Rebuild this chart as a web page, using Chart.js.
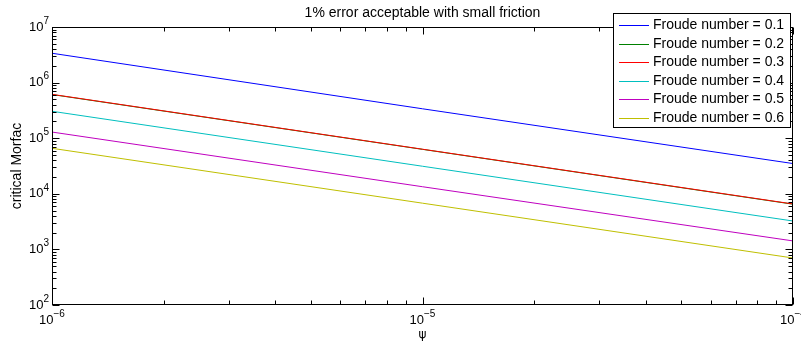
<!DOCTYPE html>
<html><head><meta charset="utf-8">
<script src="https://cdn.jsdelivr.net/npm/chart.js@4/dist/chart.umd.min.js"></script>
<style>html,body{margin:0;padding:0;background:#fff}#wrap{width:801px;height:344px}</style>
</head><body><div id="wrap"><canvas id="c" width="801" height="344"></canvas></div>
<script>
// ---- data ----
const psi = [1e-6, 1e-5, 1e-4];
const froudeLabels = ['Froude number = 0.1','Froude number = 0.2','Froude number = 0.3','Froude number = 0.4','Froude number = 0.5','Froude number = 0.6'];
const fr01 = [3.37e6, 3.38e5, 3.50e4];
const fr02 = [6.10e5, 6.30e4, 6.50e3];
const fr03 = [6.15e5, 6.34e4, 6.56e3];
const fr04 = [3.05e5, 3.13e4, 3.24e3];
const fr05 = [1.29e5, 1.34e4, 1.42e3];
const fr06 = [6.58e4, 6.78e3, 7.00e2];
const xTickExps = [-6, -5, -4];
const yTickExps = [2, 3, 4, 5, 6, 7];
const titleText = '1% error acceptable with small friction';
const xLabel = 'ψ';
const yLabel = 'critical Morfac';
// ---- style ----
const colors = ['#0000ff','#008000','#ff0000','#00bfbf','#bf00bf','#bfbf00'];
const FONT = '"Liberation Sans", Arial, Helvetica, sans-serif';

const series = [fr01, fr02, fr03, fr04, fr05, fr06];
const datasets = series.map((s, i) => ({
  label: froudeLabels[i],
  data: psi.map((x, j) => ({x: x, y: s[j]})),
  borderColor: colors[i],
  backgroundColor: colors[i],
  borderWidth: 1,
  pointRadius: 0,
  tension: 0,
  fill: false,
  order: series.length - i
}));

function drawPow(ctx, exp, x, y, align) {
  const base = '10';
  const e = String(exp).replace('-', '\u2212');
  ctx.font = '13px ' + FONT;
  const wb = ctx.measureText(base).width;
  ctx.font = '10px ' + FONT;
  const we = ctx.measureText(e).width;
  const total = wb + we;
  let x0 = align === 'right' ? x - total : (align === 'center' ? x - total / 2 : x);
  ctx.fillStyle = '#000';
  ctx.textAlign = 'left';
  ctx.textBaseline = 'middle';
  ctx.font = '13px ' + FONT;
  ctx.fillText(base, x0, y);
  ctx.font = '10px ' + FONT;
  ctx.fillText(e, x0 + wb, y - 6);
}

const decor = {
  id: 'decor',
  afterDraw(chart) {
    const ctx = chart.ctx;
    const a = chart.chartArea;
    const xs = chart.scales.x, ys = chart.scales.y;
    ctx.save();
    ctx.strokeStyle = '#000';
    ctx.lineWidth = 1;
    const L = Math.round(a.left) + 0.5, R = Math.round(a.right) - 0.5;
    const T = Math.round(a.top) + 0.5, B = Math.round(a.bottom) - 0.5;
    ctx.beginPath();
    for (let d = xTickExps[0]; d <= xTickExps[xTickExps.length - 1]; d++) {
      for (let m = 1; m <= 9; m++) {
        const v = m * Math.pow(10, d);
        if (v > xs.max * 1.0001) break;
        const p = Math.round(xs.getPixelForValue(v)) + 0.5;
        const len = m === 1 ? 7 : 4;
        ctx.moveTo(p, B); ctx.lineTo(p, B - len);
        ctx.moveTo(p, T); ctx.lineTo(p, T + len);
      }
    }
    for (let d = yTickExps[0]; d <= yTickExps[yTickExps.length - 1]; d++) {
      for (let m = 1; m <= 9; m++) {
        const v = m * Math.pow(10, d);
        if (v > ys.max * 1.0001) break;
        const p = Math.round(ys.getPixelForValue(v)) + 0.5;
        const len = m === 1 ? 7 : 4;
        ctx.moveTo(L, p); ctx.lineTo(L + len, p);
        ctx.moveTo(R, p); ctx.lineTo(R - len, p);
      }
    }
    ctx.stroke();
    ctx.strokeRect(L, T, R - L, B - T);

    xTickExps.forEach(e => {
      drawPow(ctx, e, xs.getPixelForValue(Math.pow(10, e)), 320, 'center');
    });
    yTickExps.forEach(e => {
      drawPow(ctx, e, 49, ys.getPixelForValue(Math.pow(10, e)), 'right');
    });

    ctx.fillStyle = '#000';
    ctx.font = '14px ' + FONT;
    ctx.textAlign = 'center';
    ctx.textBaseline = 'middle';
    ctx.fillText(titleText, (a.left + a.right) / 2, 13);
    ctx.font = '12px "DejaVu Sans", ' + FONT;
    ctx.fillText(xLabel, (a.left + a.right) / 2, 335);
    ctx.save();
    ctx.translate(17, (a.top + a.bottom) / 2);
    ctx.rotate(-Math.PI / 2);
    ctx.font = '14px ' + FONT;
    ctx.fillText(yLabel, 0, 0);
    ctx.restore();

    const lx = 613.5, ly = 13.5, lw = 177, lh = 114;
    ctx.fillStyle = '#fff';
    ctx.fillRect(lx, ly, lw, lh);
    ctx.strokeStyle = '#000';
    ctx.strokeRect(lx, ly, lw, lh);
    ctx.font = '14px ' + FONT;
    ctx.textAlign = 'left';
    ctx.textBaseline = 'middle';
    chart.data.datasets.forEach((ds, i) => {
      const cy = 25 + i * 18.5;
      ctx.strokeStyle = colors[i];
      ctx.lineWidth = 1;
      ctx.beginPath();
      ctx.moveTo(619, Math.round(cy) + 0.5);
      ctx.lineTo(649, Math.round(cy) + 0.5);
      ctx.stroke();
      ctx.fillStyle = '#000';
      ctx.fillText(ds.label, 653, cy + 0.5);
    });
    ctx.restore();
  }
};

new Chart(document.getElementById('c'), {
  type: 'line',
  data: { datasets: datasets },
  options: {
    responsive: false,
    animation: false,
    devicePixelRatio: 1,
    layout: { padding: { left: 0, right: 8, top: 27, bottom: 0 } },
    plugins: { legend: { display: false }, title: { display: false }, tooltip: { enabled: false } },
    scales: {
      x: {
        type: 'logarithmic', min: 1e-6, max: 1e-4,
        ticks: { display: false }, grid: { display: false }, border: { display: false },
        afterFit(s) { s.height = 39; }
      },
      y: {
        type: 'logarithmic', min: 1e2, max: 1e7,
        ticks: { display: false }, grid: { display: false }, border: { display: false },
        afterFit(s) { s.width = 52; }
      }
    }
  },
  plugins: [decor]
});
</script>
</body></html>
